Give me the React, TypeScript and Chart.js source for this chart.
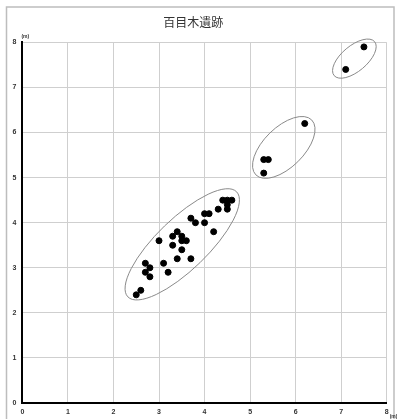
import React, { useEffect, useRef } from "react";
import { Chart, registerables } from "chart.js";

Chart.register(...registerables);

const title = "百目木遺跡";
const unitLabel = "(m)";
const tickValues = [0, 1, 2, 3, 4, 5, 6, 7, 8];

const xValues = [
  2.5, 2.6, 2.7, 2.7, 2.8, 2.8, 3.0, 3.1, 3.2, 3.3, 3.3, 3.4, 3.4, 3.5, 3.5, 3.6, 3.5,
  3.7, 3.7, 3.8, 4.0, 4.1, 4.0, 4.2, 4.3, 4.4, 4.5, 4.6, 4.5, 4.5,
  5.3, 5.4, 5.3, 6.2, 7.1, 7.5,
];
const yValues = [
  2.4, 2.5, 3.1, 2.9, 3.0, 2.8, 3.6, 3.1, 2.9, 3.7, 3.5, 3.8, 3.2, 3.7, 3.6, 3.6, 3.4,
  4.1, 3.2, 4.0, 4.2, 4.2, 4.0, 3.8, 4.3, 4.5, 4.5, 4.5, 4.4, 4.3,
  5.4, 5.4, 5.1, 6.2, 7.4, 7.9,
];

// group ellipses (data units): centre x, centre y, semi-major, semi-minor, angle (deg)
const ellipseCx = [3.51, 5.74, 7.29];
const ellipseCy = [3.52, 5.67, 7.64];
const ellipseA = [1.66, 0.86, 0.58];
const ellipseB = [0.56, 0.44, 0.28];
const ellipseAngle = [44, 44.5, 40];

const decorPlugin = {
  id: "decor",
  beforeDraw(chart: any) {
    const ctx = chart.ctx;
    ctx.save();
    ctx.fillStyle = "#ffffff";
    ctx.fillRect(0, 0, chart.width, chart.height);
    ctx.strokeStyle = "#bdbdbd";
    ctx.lineWidth = 1.5;
    ctx.strokeRect(6.5, 7, 387.5, 420);
    ctx.restore();
  },
  afterDatasetsDraw(chart: any) {
    const ctx = chart.ctx;
    const xs = chart.scales.x;
    const ys = chart.scales.y;
    ctx.save();
    ctx.strokeStyle = "#8a8a8a";
    ctx.lineWidth = 1;
    for (let i = 0; i < ellipseCx.length; i++) {
      const cx = xs.getPixelForValue(ellipseCx[i]);
      const cy = ys.getPixelForValue(ellipseCy[i]);
      const unit = xs.getPixelForValue(1) - xs.getPixelForValue(0);
      ctx.beginPath();
      ctx.ellipse(cx, cy, ellipseA[i] * unit, ellipseB[i] * unit, (-ellipseAngle[i] * Math.PI) / 180, 0, Math.PI * 2);
      ctx.stroke();
    }
    // unit labels
    ctx.fillStyle = "#333";
    ctx.font = "bold 5px 'Liberation Sans', Arial, sans-serif";
    ctx.textBaseline = "middle";
    ctx.textAlign = "left";
    ctx.fillText(unitLabel, xs.getPixelForValue(0) - 1, ys.getPixelForValue(8) - 6);
    ctx.fillText(unitLabel, xs.getPixelForValue(8) + 3, ys.getPixelForValue(0) + 14);
    ctx.restore();
  },
};

export default function App() {
  const ref = useRef<HTMLCanvasElement | null>(null);
  useEffect(() => {
    document.body.style.margin = "0";
    const points = xValues.map((x, i) => ({ x, y: yValues[i] }));
    const tickFont = { family: "'Liberation Sans', Arial, sans-serif", size: 7, weight: "bold" as const };
    const chart = new Chart(ref.current!, {
      type: "scatter",
      data: {
        datasets: [
          {
            data: points,
            backgroundColor: "#000",
            borderColor: "#000",
            pointRadius: 3,
            pointHoverRadius: 3,
          },
        ],
      },
      options: {
        animation: false,
        responsive: false,
        devicePixelRatio: 1,
        layout: { padding: { top: 8, left: 0, right: 10.3, bottom: 0 } },
        plugins: {
          legend: { display: false },
          tooltip: { enabled: false },
          title: {
            display: true,
            text: title,
            color: "#333",
            font: { family: "'Noto Sans CJK JP', sans-serif", size: 12, weight: "normal" },
            padding: { top: 7, bottom: 13 },
          },
        },
        scales: {
          x: {
            type: "linear",
            min: 0,
            max: 8,
            afterBuildTicks: (s: any) => {
              s.ticks = tickValues.map((v) => ({ value: v }));
            },
            afterFit: (s: any) => {
              s.height = 16;
            },
            ticks: { color: "#333", font: tickFont, padding: 5, maxRotation: 0 },
            grid: { color: "#cfcfcf", lineWidth: 1, drawTicks: false },
            border: { color: "#000", width: 2 },
          },
          y: {
            type: "linear",
            min: 0,
            max: 8,
            afterBuildTicks: (s: any) => {
              s.ticks = tickValues.map((v) => ({ value: v }));
            },
            afterFit: (s: any) => {
              s.width = 22.4;
            },
            ticks: { color: "#333", font: tickFont, padding: 6 },
            grid: { color: "#cfcfcf", lineWidth: 1, drawTicks: false },
            border: { color: "#000", width: 2 },
          },
        },
      },
      plugins: [decorPlugin],
    });
    return () => chart.destroy();
  }, []);
  return (
    <div style={{ width: 397, height: 419 }}>
      <canvas ref={ref} width={397} height={419} style={{ display: "block" }} />
    </div>
  );
}
